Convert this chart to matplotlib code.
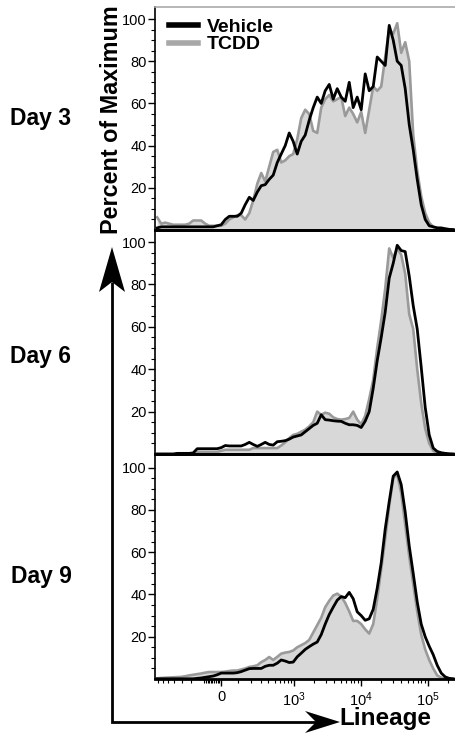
import numpy as np
import matplotlib
matplotlib.use('Agg')
import matplotlib.pyplot as plt
from matplotlib.lines import Line2D
from matplotlib.patches import Polygon

plt.rcParams['font.family'] = ['Liberation Sans', 'DejaVu Sans']
plt.rcParams['mathtext.fontset'] = 'custom'
plt.rcParams['mathtext.rm'] = 'Liberation Sans'
plt.rcParams['mathtext.it'] = 'Liberation Sans:italic'
plt.rcParams['mathtext.bf'] = 'Liberation Sans:bold'

# ---------------- data ----------------
lineage = [-731, -634, -551, -476, -411, -354, -304, -260, -219, -184, -151, -122, -95, -70, -46, -23,
           0,
           23, 46, 70, 95, 122, 151, 184, 219, 260, 304, 354, 411, 476, 551, 634, 731,
           841, 966, 1111, 1276, 1466, 1683, 1933, 2219, 2547, 2922,
           3355, 3850, 4418, 5070, 5818, 6674, 7652, 8782,
           10076, 11562, 13268, 15226, 17469, 20045, 22998, 26388, 30276, 34743, 39862, 45726,
           52480, 60205, 69090, 79260, 90950, 104350, 119720, 137370, 157600, 180830, 207500, 238100]

day3_vehicle = [1, 1.5, 1.5, 1.5, 1.5, 1.5, 1.5, 1.5, 1.5, 1.5, 1.5, 1.5, 1.5, 1.5, 1.5, 2,
                2.5,
                5, 6.5, 6.5, 6.5, 8, 12, 15.5, 14, 18, 21, 21.5, 24, 26, 32, 36, 40,
                46, 42, 36, 42, 45, 52, 58, 63, 60, 66,
                69, 62, 67, 63, 61, 70, 58, 63,
                57, 74, 66, 68, 82, 80, 78, 97, 90, 80, 78, 67,
                50, 38, 24, 12, 5, 2, 1.5, 1, 1, 0.6, 0.3, 0.2]
day3_tcdd = [6, 3, 3.5, 3, 2.5, 2.5, 2.5, 2.5, 3, 4.5, 4.5, 4.5, 3, 2, 2, 2,
             2,
             3, 5, 6, 7, 7, 5, 8, 14, 22, 27, 23, 30, 37, 38, 32, 33,
             35, 36, 43, 53, 57, 55, 47, 46, 58, 62,
             64, 61, 62, 63, 54, 58, 55, 51,
             56, 46, 57, 68, 66, 68, 82, 95, 93, 98, 84, 89,
             80, 45, 28, 16, 8, 3.5, 1.5, 1, 0.7, 0.5, 0.3, 0.2]

day6_vehicle = [0, 0, 0, 0, 0, 0.3, 0.3, 0.3, 0.3, 0.5, 2.5, 2.5, 2.5, 2.5, 2.5, 2.5,
                3,
                4, 3.8, 3.8, 3.8, 3.8, 4.5, 5.5, 4.5, 3.6, 4.5, 5.5, 4.5, 4.2, 5.8, 6, 6.3,
                7, 8, 8.5, 9, 10.5, 12, 13.5, 14.5, 18.5, 16.2,
                16, 15.7, 15.5, 15.4, 14.5, 13.8, 13.8, 13.5,
                12.5, 15.5, 20, 31, 44, 55, 67, 83, 90, 98.5, 96, 95.5,
                84, 70, 59, 41, 22, 9, 2.8, 1.2, 0.6, 0.3, 0.1, 0]
day6_tcdd = [0, 0, 0, 0, 0, 0, 0, 0, 0, 0, 1, 1, 1, 1, 1, 1,
             1.5,
             2, 2, 2, 2, 2, 2, 2, 2.8, 2.8, 2.8, 2.8, 2.8, 2.8, 2.8, 4, 5.5,
             7.5, 9, 9.5, 10.5, 11.5, 13, 15, 20, 18.5, 19.5,
             19, 17.3, 16.5, 16.2, 16.5, 17, 20, 16.2,
             14, 18, 26, 35, 50, 63, 78, 97, 92.5, 97, 94, 85,
             66, 59, 40, 24, 12, 5, 1.5, 0.5, 0.2, 0, 0, 0]

day9_vehicle = [0.1, 0.1, 0.1, 0.1, 0.1, 0.1, 0.1, 0.1, 0.1, 0.1, 0.3, 0.5, 0.8, 1.1, 1.4, 2,
                2.8,
                2.8, 2.8, 2.8, 3, 3.5, 4.2, 4.9, 5, 5, 5, 6, 6.5, 6.5, 7.5, 9, 8.5,
                7.8, 8, 10.5, 12.2, 14, 15.3, 16.5, 17.5, 21, 26,
                30.5, 34, 37.3, 39, 38.5, 41, 38, 31.8,
                30, 27.8, 28.5, 33, 43, 55, 71, 84, 96, 98, 92, 79,
                63, 50, 36.5, 26, 20, 15.5, 11.5, 6.5, 2.8, 1, 0.3, 0.1]
day9_tcdd = [0.3, 0.5, 0.6, 0.7, 0.8, 0.9, 1, 1.3, 1.7, 2, 2.3, 2.6, 3, 3.3, 3.3, 3.3,
             3.3,
             3.5, 3.8, 4, 4, 4.5, 5, 5.7, 6, 6.5, 8, 9, 10.4, 9, 10.5, 12, 12.5,
             12.8, 13.5, 15, 16, 17, 18.5, 22, 25.5, 29, 34,
             37, 39.5, 40.4, 39, 36, 32, 27.5, 27.5,
             26, 23.5, 21.5, 26, 38, 52, 66.5, 82, 95, 97, 88, 73,
             58, 45, 32, 21, 14, 9, 5, 1.7, 0.6, 0.2, 0.1, 0]

days = ['Day 3', 'Day 6', 'Day 9']
vehicle_series = [day3_vehicle, day6_vehicle, day9_vehicle]
tcdd_series = [day3_tcdd, day6_tcdd, day9_tcdd]
series_names = ['Vehicle', 'TCDD']
y_major = [20, 40, 60, 80, 100]
x_major = [0, 1e3, 1e4, 1e5]
x_major_labels = ['0', r'$\mathregular{10^3}$', r'$\mathregular{10^4}$', r'$\mathregular{10^5}$']

# ---------------- figure ----------------
W, H = 456, 733
fig = plt.figure(figsize=(W / 100, H / 100), dpi=100)

# overlay (pixel coordinates) for arrows and free text
ov = fig.add_axes([0, 0, 1, 1])
ov.set_xlim(0, W)
ov.set_ylim(H, 0)
ov.axis('off')
ov.patch.set_alpha(0)

C = 164.0
fwd = lambda v: np.arcsinh(np.asarray(v, dtype=float) / C)
inv = lambda v: C * np.sinh(np.asarray(v, dtype=float))

panel_px = [(7, 230), (230, 454), (454, 679)]
ytops = [105.7, 105.7, 106.5]
left_px = 155
x = np.array(lineage, dtype=float)

axes = []
for i, ((top, bot), ytop) in enumerate(zip(panel_px, ytops)):
    ax = fig.add_axes([left_px / W, 1 - bot / H, (W - left_px) / W, (bot - top) / H])
    ax.set_xscale('function', functions=(fwd, inv))
    ax.set_xlim(-790, 262000)
    ax.set_ylim(0, ytop)
    ax.patch.set_alpha(0)
    v = np.array(vehicle_series[i])
    t = np.array(tcdd_series[i])
    ax.fill_between(x, 0, t, color='#d8d8d8', lw=0, zorder=1)
    ax.plot(x, t, color='#9a9a9a', lw=1.9, zorder=2)
    ax.plot(x, v, color='black', lw=2.0, zorder=3)

    ax.spines['right'].set_visible(False)
    ax.spines['left'].set_linewidth(1.2)
    ax.spines['bottom'].set_linewidth(2.0)
    if i == 0:
        ax.spines['top'].set_color('#aaaaaa')
        ax.spines['top'].set_linewidth(1.2)
    else:
        ax.spines['top'].set_linewidth(2.0)

    ax.set_yticks(y_major)
    ax.set_yticklabels([str(v_) for v_ in y_major], fontsize=10.5)
    ax.set_yticks([m for m in range(5, 105, 5) if m % 20 != 0], minor=True)
    ax.tick_params(axis='y', which='major', direction='out', length=5, width=1, pad=1)
    ax.tick_params(axis='y', which='minor', direction='out', length=3, width=0.8)

    if i < 2:
        ax.tick_params(axis='x', which='both', bottom=False, labelbottom=False)
        ax.set_xticks([])
        ax.set_xticks([], minor=True)
    else:
        ax.set_xticks(x_major)
        ax.set_xticklabels(x_major_labels, fontsize=10.5)
        minors = [-k for k in range(10, 100, 10)] + [-k for k in range(100, 800, 100)]
        minors += list(range(100, 1000, 100))
        for dec in (1e3, 1e4, 1e5):
            minors += [m * dec for m in range(2, 10) if m * dec < 262000]
        ax.set_xticks(minors, minor=True)
        ax.tick_params(axis='x', which='major', direction='out', length=5, width=1, pad=3)
        ax.tick_params(axis='x', which='minor', direction='out', length=3, width=0.8)
    axes.append(ax)

# legend in the top panel
handles = [Line2D([], [], color='black', lw=4),
           Line2D([], [], color='#a8a8a8', lw=4)]
axes[0].legend(handles, series_names, loc='upper left', bbox_to_anchor=(0.045, 0.95),
               frameon=False, handlelength=1.5, handletextpad=0.45, labelspacing=0.0,
               borderpad=0, borderaxespad=0,
               prop={'weight': 'bold', 'size': 14})

# day labels
for label, yc in zip(days, [118, 357, 577]):
    ov.text(41, yc, label, fontsize=16.5, fontweight='bold', ha='center', va='center')

# axis titles
ov.text(112, 120, 'Percent of Maximum', fontsize=16.8, fontweight='bold',
        rotation=90, ha='center', va='center')
ov.text(385, 719, 'Lineage', fontsize=17.5, fontweight='bold', ha='center', va='center')

# arrows
ov.plot([112, 112, 318], [282, 722, 722], color='black', lw=2, solid_capstyle='butt',
        solid_joinstyle='miter')
ov.add_patch(Polygon([(112, 247), (99, 292), (112, 282), (125, 292)], closed=True,
                     color='black', lw=0))
ov.add_patch(Polygon([(340, 722), (305, 711), (316, 722), (305, 733)], closed=True,
                     color='black', lw=0))

fig.savefig('out.png', dpi=100)
